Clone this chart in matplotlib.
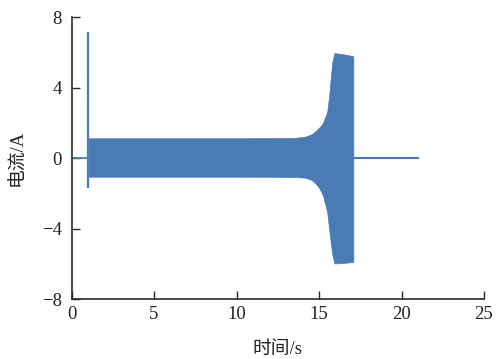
import matplotlib
matplotlib.use("Agg")
import matplotlib.pyplot as plt

# Envelope of the oscillating current
env_t = [1.05, 2.0, 5.0, 10.0, 13.5, 14.2, 14.56, 14.76, 14.96, 15.16, 15.26, 15.47, 15.5,
         15.62, 15.71, 15.77, 15.81, 15.93, 16.0, 16.5, 17.08]
env_upper = [1.12, 1.12, 1.12, 1.12, 1.14, 1.22, 1.35, 1.5, 1.68, 1.88, 2.05, 2.55, 2.63,
             3.58, 4.53, 5.1, 5.47, 5.95, 5.95, 5.88, 5.78]
env_lower = [-1.06, -1.06, -1.06, -1.06, -1.07, -1.12, -1.25, -1.42, -1.63, -1.95, -2.2, -2.95, -3.1,
             -4.09, -4.8, -5.23, -5.5, -5.98, -5.98, -5.95, -5.9]

# Start-up spike
spike_t = [1.0, 1.0]
spike_v = [-1.72, 7.15]

# Zero-current segments before and after the oscillation
pre_t = [0.0, 1.0]
post_t = [17.05, 21.0]
zero_v = [0.0, 0.0]

xticks = [0, 5, 10, 15, 20, 25]
yticks = [-8, -4, 0, 4, 8]

color = '#4a7cb4'

fig = plt.figure(figsize=(4.96, 3.59), dpi=100)
ax = fig.add_axes([0.1442, 0.1671, 0.8316, 0.7855])

ax.fill_between(env_t, env_lower, env_upper, color=color, linewidth=0.5)
ax.plot(spike_t, spike_v, color=color, lw=1.6, solid_capstyle='butt')
ax.plot(pre_t, zero_v, color=color, lw=1.3)
ax.plot(post_t, zero_v, color=color, lw=1.5)

ax.set_xlim(0, 25)
ax.set_ylim(-8, 8)
ax.set_xticks(xticks)
ax.set_yticks(yticks)

for s in ['top', 'right']:
    ax.spines[s].set_visible(False)
for s in ['left', 'bottom']:
    ax.spines[s].set_linewidth(1.2)
    ax.spines[s].set_color('#2a2a2a')

fam = ['Liberation Serif', 'Noto Sans CJK SC']
ax.tick_params(direction='in', length=5.5, width=1.0, color='#2a2a2a',
               labelsize=13.5, labelcolor='#222222')
ax.tick_params(axis='x', pad=5)
ax.tick_params(axis='y', pad=7)
for lab in ax.get_xticklabels() + ax.get_yticklabels():
    lab.set_family(fam)

ax.set_xlabel('时间/s', family=fam, fontsize=13.5, color='#222222', labelpad=13)
ax.set_ylabel('电流/A', family=fam, fontsize=13.5, color='#222222', labelpad=11)

fig.savefig('out.png', dpi=100)
